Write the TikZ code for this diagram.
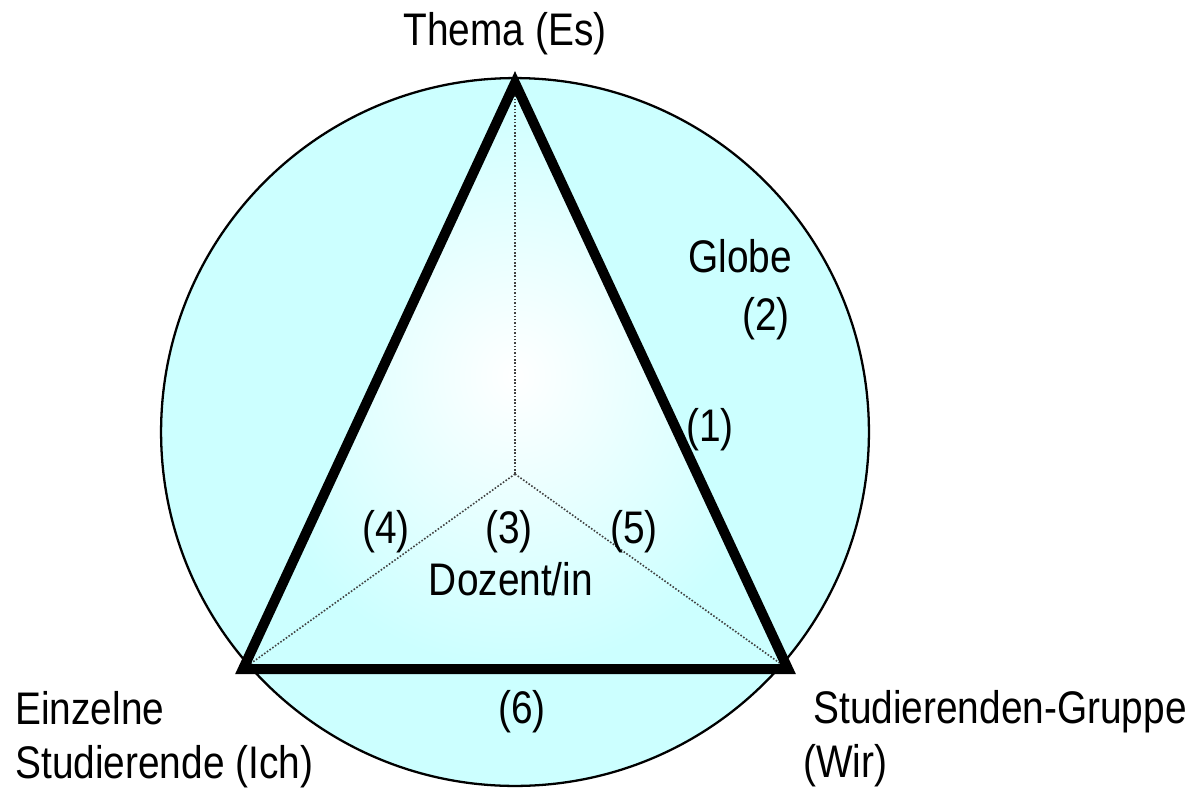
\documentclass[tikz,border=0pt]{standalone}
\usepackage{fontspec}
\setmainfont{Liberation Sans}[FakeStretch=0.85]

\definecolor{globus}{RGB}{204,255,255}

\tikzset{
	txt/.style={inner sep=0pt, font=\fontsize{26}{31}\selectfont},
	punkt/.style={densely dotted, line width=0.9pt, black!75}
}

\begin{document}
\begin{tikzpicture}[x=0.02cm, y=-0.02cm]

\useasboundingbox (0,0) rectangle (1196,788);

% Globe
\draw[fill=globus, line width=1.3pt] (515,432) circle [radius=7.08cm];

\coordinate (T) at (515,83);
\coordinate (L) at (243,669);
\coordinate (R) at (788,669);
\coordinate (D) at (515,474);

% Dreieck
\shade[inner color=white, outer color=globus] (T) -- (L) -- (R) -- cycle;

	\foreach \p in {T, L, R}
		\draw[punkt] (D) -- (\p);

\draw[line width=5.7pt] (T) -- (L) -- (R) -- cycle;

% Beschriftung
\node[txt, anchor=base] (thema) at (505,45) {Thema (Es)};
\node[txt, anchor=base] (globe) at (740,272) {Globe};
\node[txt, anchor=base] (n2) at (766,330) {(2)};
\node[txt, anchor=base] (n1) at (710,441) {(1)};
\node[txt, anchor=base] (n4) at (386,543) {(4)};
\node[txt, anchor=base] (n3) at (509,543) {(3)};
\node[txt, anchor=base] (n5) at (634,543) {(5)};
\node[txt, anchor=base] (doz) at (511,595) {Dozent/in};
\node[txt, anchor=base] (n6) at (522,723) {(6)};

\node[txt, anchor=base west] (ich) at (15,724) {Einzelne};
\node[txt, anchor=base west] (ich2) at (15,778) {Studierende (Ich)};
\node[txt, anchor=base west] (wir) at (813,723) {Studierenden-Gruppe};
\node[txt, anchor=base west] (wir2) at (803,777) {(Wir)};

\end{tikzpicture}
\end{document}
